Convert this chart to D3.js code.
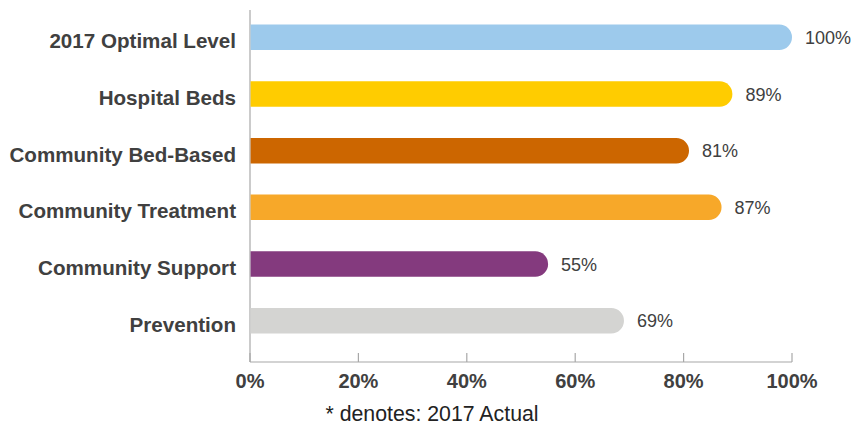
<!DOCTYPE html>
<html><head><meta charset="utf-8">
<script src="https://cdn.jsdelivr.net/npm/d3@7"></script>
<style>body{margin:0;background:#fff;font-family:"Liberation Sans",Arial,sans-serif;}</style>
</head><body><svg id="c" width="864" height="429"></svg>
<script>
const categories = ["2017 Optimal Level","Hospital Beds","Community Bed-Based","Community Treatment","Community Support","Prevention"];
const values = [100,89,81,87,55,69];
const colors = ["#9DCAEC","#FFCC00","#CC6600","#F7A829","#843A7E","#D4D4D2"];
const ticks = [0,20,40,60,80,100];
const footnote = "* denotes: 2017 Actual";

const svg = d3.select("#c");
const x = d3.scaleLinear().domain([0,100]).range([250,792]);
const y = d3.scaleBand().domain(categories).range([9,349]).paddingInner(0.55).paddingOuter(0.275);

svg.append("line").attr("x1",250).attr("x2",250).attr("y1",10).attr("y2",362).attr("stroke","#a8a8a8").attr("stroke-width",1.2);
svg.append("line").attr("x1",250).attr("x2",x(100)).attr("y1",362).attr("y2",362).attr("stroke","#a8a8a8").attr("stroke-width",1.2);
svg.selectAll(".tk").data(ticks).enter().append("line")
  .attr("x1",d=>x(d)).attr("x2",d=>x(d)).attr("y1",353).attr("y2",362).attr("stroke","#a8a8a8").attr("stroke-width",1.2);
svg.selectAll(".tl").data(ticks).enter().append("text")
  .attr("x",d=>x(d)).attr("y",388).attr("text-anchor","middle")
  .attr("font-size",20).attr("font-weight","bold").attr("fill","#404040").text(d=>d+"%");

const bh = y.bandwidth();
svg.selectAll(".bar").data(categories).enter().append("path")
  .attr("fill",(d,i)=>colors[i])
  .attr("d",(d,i)=>{
    const x0=x(0)+0.6, x1=x(values[i]), y0=y(d), r=bh/2;
    return `M${x0},${y0}H${x1-r}A${r},${r} 0 0 1 ${x1-r},${y0+bh}H${x0}Z`;
  });
svg.selectAll(".cl").data(categories).enter().append("text")
  .attr("x",236).attr("y",d=>y(d)+bh/2+11).attr("text-anchor","end")
  .attr("font-size",20.6).attr("font-weight","bold").attr("fill","#404040").text(d=>d);
svg.selectAll(".vl").data(categories).enter().append("text")
  .attr("x",(d,i)=>x(values[i])+13).attr("y",d=>y(d)+bh/2+6.5)
  .attr("font-size",18).attr("fill","#404040").text((d,i)=>values[i]+"%");
svg.append("text").attr("x",432).attr("y",421).attr("text-anchor","middle")
  .attr("font-size",21.3).attr("fill","#222").text(footnote);
</script></body></html>
